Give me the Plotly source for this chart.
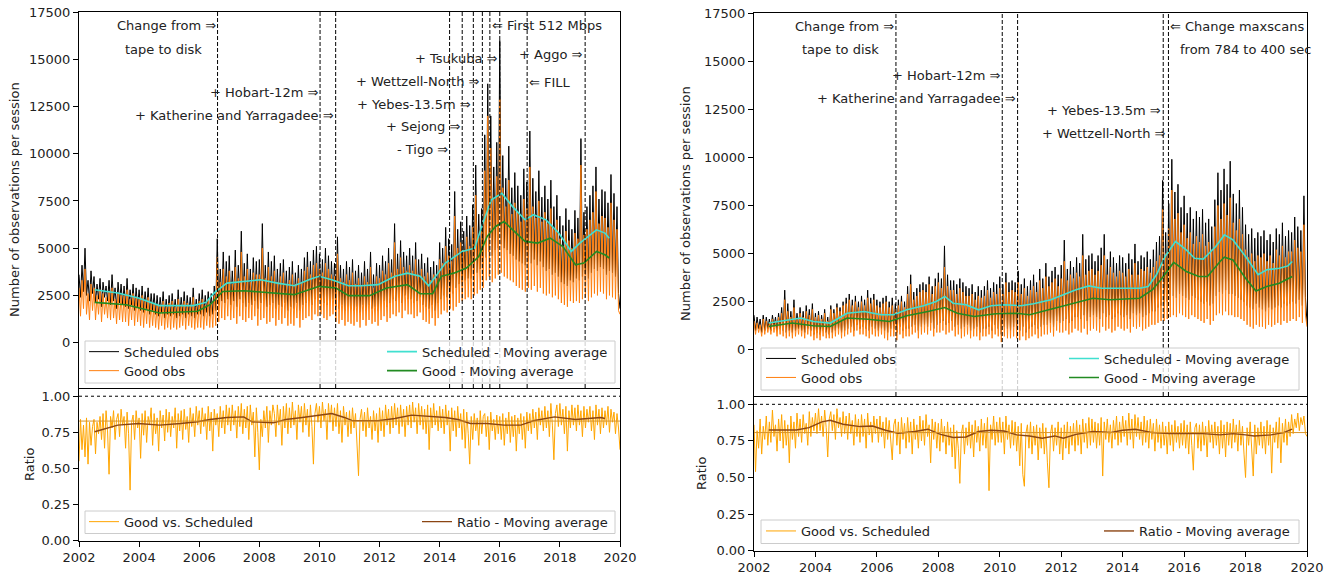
import plotly.graph_objects as go

# ---------------- data ----------------
START_YEAR = 2002.0
STEP = 0.05   # 20 samples per year, 2002.0 .. 2020.0

# Left panel: observations per session (each row = half a year)
SCHED_L = [
    3600, 2400, 4100, 2700, 5000, 2500, 3300, 2200, 3800, 2600,
    3500, 2100, 3100, 2300, 3400, 1900, 3200, 2400, 3000, 2200,
    3300, 2000, 3600, 2200, 2900, 1800, 3200, 2100, 3100, 2000,
    3000, 1900, 3400, 1800, 2800, 2000, 3100, 1700, 2900, 1900,
    2800, 1700, 3000, 1600, 2700, 1800, 2900, 1500, 2600, 1700,
    2600, 1500, 2500, 1400, 2400, 1600, 2700, 1300, 2300, 1500,
    2500, 1400, 2600, 1500, 2300, 1300, 2800, 1400, 2400, 1500,
    2700, 1300, 2500, 1500, 2400, 1400, 2900, 1300, 2300, 1500,
    2600, 1500, 2800, 1400, 2500, 1600, 2700, 1400, 2600, 1500,
    3000, 1700, 5500, 2000, 3900, 2200, 4800, 2100, 4300, 2300,
    4600, 2000, 3800, 2200, 4900, 1900, 4100, 2300, 5900, 2100,
    4200, 1900, 4700, 2100, 3900, 2000, 4500, 2200, 4300, 1800,
    4400, 2100, 6300, 2200, 4100, 1900, 4800, 2000, 4300, 2100,
    4600, 1800, 3900, 2000, 4200, 1900, 4400, 2100, 3800, 1700,
    4000, 1900, 4300, 1800, 3700, 2100, 4100, 1700, 3900, 2000,
    4500, 2100, 4800, 2200, 4300, 2000, 4900, 2300, 5100, 2200,
    4700, 2300, 4400, 2100, 5000, 2000, 4600, 2200, 4300, 2300,
    4200, 1900, 5600, 1800, 4100, 2000, 3900, 1700, 4300, 1900,
    4000, 1800, 4400, 1700, 3800, 1900, 4100, 1600, 3700, 2000,
    4300, 1700, 3900, 2000, 4800, 1800, 3600, 1900, 4200, 1700,
    4100, 2000, 4600, 2200, 4300, 1900, 5000, 2100, 4400, 2300,
    6300, 2200, 4700, 2400, 5400, 2100, 4800, 2500, 4600, 2300,
    5000, 2300, 4600, 2100, 5300, 2200, 4400, 2400, 4700, 2000,
    4200, 1900, 4500, 1800, 4000, 2000, 4300, 1700, 4100, 2100,
    5300, 2300, 5000, 2500, 6100, 2400, 5500, 2700, 5200, 2600,
    8000, 2900, 6000, 3100, 6400, 3200, 5900, 3300, 6700, 3400,
    6200, 3400, 7300, 3600, 9400, 3700, 6800, 3900, 7100, 4000,
    11000, 4500, 13700, 4800, 12000, 4600, 9300, 4900, 10600, 5000,
    16000, 5200, 9900, 5000, 8700, 4900, 10400, 4700, 8200, 4600,
    9000, 4400, 8300, 4300, 7800, 4200, 9200, 4100, 8500, 4300,
    11200, 4200, 8700, 4400, 8000, 4100, 9100, 4300, 7700, 4000,
    8300, 3800, 7600, 3900, 8600, 3600, 7200, 3700, 7800, 3500,
    6700, 3200, 6200, 3100, 7100, 3000, 6500, 3300, 6000, 3200,
    7000, 3400, 6600, 3300, 10800, 3500, 6900, 3600, 7200, 3400,
    7800, 3700, 8300, 3900, 9300, 3800, 7600, 4000, 8100, 3900,
    8000, 3600, 7400, 3800, 8900, 3700, 7900, 3500, 7200, 2600,
    1800,
]
GOOD_L = [
    2900, 1400, 3300, 1800, 3900, 1500, 2600, 1200, 3100, 1700,
    2900, 1200, 2500, 1500, 2800, 1100, 2600, 1500, 2400, 1300,
    2700, 1200, 2900, 1300, 2300, 1000, 2600, 1200, 2500, 1100,
    2500, 1100, 2800, 900, 2300, 1200, 2600, 900, 2400, 1100,
    2300, 900, 2500, 800, 2200, 1000, 2400, 800, 2100, 900,
    2100, 800, 2000, 700, 2000, 900, 2200, 700, 1900, 800,
    2100, 700, 2200, 800, 1900, 700, 2300, 800, 2000, 900,
    2200, 700, 2100, 900, 2000, 800, 2400, 700, 1900, 800,
    2200, 800, 2300, 700, 2000, 900, 2300, 800, 2100, 800,
    2500, 900, 4500, 1100, 3200, 1300, 3900, 1200, 3500, 1400,
    3800, 1200, 3100, 1300, 4000, 1000, 3400, 1400, 4800, 1200,
    3500, 1100, 3900, 1300, 3200, 1200, 3700, 1400, 3600, 900,
    3600, 1200, 5000, 1300, 3400, 1000, 4000, 1100, 3500, 1300,
    3800, 900, 3200, 1200, 3500, 1000, 3700, 1300, 3100, 900,
    3300, 1000, 3600, 900, 3100, 1300, 3400, 800, 3200, 1200,
    3800, 1300, 4000, 1400, 3600, 1200, 4100, 1500, 4200, 1400,
    3900, 1500, 3700, 1300, 4200, 1200, 3900, 1400, 3600, 1500,
    3500, 1100, 4700, 1000, 3400, 1200, 3200, 900, 3600, 1100,
    3300, 1000, 3700, 900, 3100, 1100, 3400, 800, 3000, 1200,
    3500, 900, 3200, 1200, 4000, 1000, 2900, 1100, 3500, 900,
    3400, 1200, 3800, 1400, 3600, 1100, 4200, 1300, 3700, 1500,
    5300, 1400, 3900, 1600, 4500, 1300, 4000, 1700, 3800, 1500,
    4100, 1500, 3800, 1300, 4400, 1400, 3600, 1600, 3900, 1200,
    3500, 1100, 3700, 1000, 3300, 1300, 3600, 900, 3400, 1300,
    4400, 1500, 4200, 1700, 5100, 1600, 4600, 1800, 4300, 1700,
    6700, 1900, 5000, 2100, 5300, 2200, 4900, 2300, 5600, 2400,
    5100, 2300, 6100, 2500, 7800, 2600, 5600, 2800, 5900, 2900,
    9100, 3300, 12000, 3500, 10300, 3200, 7600, 3400, 8800, 3600,
    12900, 3700, 8200, 3500, 7200, 3400, 8600, 3300, 6800, 3200,
    7400, 3000, 6900, 2900, 6400, 2800, 7600, 2700, 7100, 2900,
    9300, 2800, 7200, 3000, 6600, 2700, 7500, 2900, 6400, 2600,
    6900, 2500, 6300, 2600, 7100, 2400, 6000, 2500, 6500, 2300,
    5500, 2100, 5100, 2000, 5900, 1900, 5400, 2200, 5000, 2100,
    5800, 2200, 5500, 2100, 9400, 2300, 5700, 2400, 6000, 2200,
    6500, 2400, 6900, 2600, 8000, 2500, 6300, 2700, 6700, 2600,
    6600, 2300, 6100, 2500, 7400, 2400, 6500, 2300, 6000, 1700,
    1500,
]
RATIO_L = [
    0.55, 0.84, 0.63, 0.80, 0.58, 0.85, 0.53, 0.82, 0.66, 0.79,
    0.84, 0.60, 0.82, 0.74, 0.86, 0.70, 0.88, 0.64, 0.90, 0.76,
    0.46, 0.86, 0.78, 0.90, 0.70, 0.84, 0.88, 0.72, 0.91, 0.80,
    0.86, 0.64, 0.89, 0.74, 0.35, 0.82, 0.87, 0.70, 0.90, 0.78,
    0.85, 0.57, 0.88, 0.73, 0.90, 0.68, 0.86, 0.80, 0.92, 0.66,
    0.88, 0.74, 0.85, 0.62, 0.90, 0.78, 0.87, 0.69, 0.91, 0.75,
    0.89, 0.72, 0.86, 0.78, 0.92, 0.64, 0.88, 0.76, 0.90, 0.70,
    0.91, 0.77, 0.86, 0.68, 0.92, 0.79, 0.88, 0.72, 0.93, 0.80,
    0.90, 0.74, 0.92, 0.79, 0.88, 0.70, 0.93, 0.76, 0.89, 0.62,
    0.91, 0.80, 0.88, 0.72, 0.93, 0.78, 0.90, 0.74, 0.94, 0.80,
    0.92, 0.76, 0.94, 0.80, 0.90, 0.71, 0.93, 0.79, 0.95, 0.74,
    0.91, 0.78, 0.93, 0.70, 0.94, 0.80, 0.89, 0.58, 0.92, 0.75,
    0.49, 0.84, 0.72, 0.90, 0.78, 0.93, 0.68, 0.90, 0.80, 0.94,
    0.88, 0.72, 0.94, 0.80, 0.91, 0.66, 0.93, 0.78, 0.95, 0.74,
    0.92, 0.78, 0.96, 0.80, 0.90, 0.70, 0.94, 0.82, 0.93, 0.75,
    0.95, 0.80, 0.91, 0.72, 0.94, 0.79, 0.53, 0.88, 0.95, 0.82,
    0.93, 0.78, 0.96, 0.83, 0.91, 0.70, 0.95, 0.82, 0.94, 0.76,
    0.92, 0.79, 0.95, 0.74, 0.90, 0.68, 0.93, 0.80, 0.89, 0.72,
    0.90, 0.74, 0.92, 0.78, 0.88, 0.70, 0.45, 0.84, 0.91, 0.76,
    0.89, 0.72, 0.92, 0.78, 0.86, 0.70, 0.90, 0.76, 0.88, 0.68,
    0.92, 0.76, 0.90, 0.72, 0.94, 0.80, 0.91, 0.74, 0.93, 0.78,
    0.95, 0.80, 0.92, 0.74, 0.94, 0.79, 0.91, 0.72, 0.93, 0.80,
    0.94, 0.78, 0.96, 0.82, 0.92, 0.74, 0.95, 0.80, 0.93, 0.77,
    0.91, 0.74, 0.94, 0.63, 0.92, 0.78, 0.95, 0.80, 0.90, 0.76,
    0.93, 0.78, 0.91, 0.74, 0.94, 0.80, 0.90, 0.62, 0.92, 0.76,
    0.90, 0.72, 0.93, 0.78, 0.88, 0.70, 0.91, 0.64, 0.89, 0.74,
    0.53, 0.86, 0.70, 0.88, 0.76, 0.85, 0.66, 0.90, 0.74, 0.86,
    0.88, 0.72, 0.86, 0.63, 0.89, 0.76, 0.84, 0.70, 0.87, 0.74,
    0.86, 0.70, 0.88, 0.66, 0.85, 0.74, 0.89, 0.68, 0.86, 0.72,
    0.87, 0.62, 0.85, 0.74, 0.88, 0.70, 0.86, 0.64, 0.89, 0.76,
    0.88, 0.74, 0.91, 0.78, 0.89, 0.70, 0.92, 0.80, 0.90, 0.76,
    0.93, 0.78, 0.90, 0.72, 0.95, 0.80, 0.56, 0.88, 0.94, 0.79,
    0.95, 0.80, 0.91, 0.74, 0.93, 0.62, 0.90, 0.78, 0.94, 0.80,
    0.92, 0.76, 0.94, 0.80, 0.90, 0.72, 0.93, 0.78, 0.91, 0.82,
    0.93, 0.76, 0.90, 0.70, 0.94, 0.80, 0.91, 0.74, 0.92, 0.78,
    0.90, 0.80, 0.93, 0.75, 0.91, 0.82, 0.89, 0.74, 0.88, 0.78,
    0.63,
]
# Left panel moving averages
SCHED_MA_L_X = [2002.52, 2003.29, 2003.98, 2004.68, 2005.24, 2005.80, 2006.22, 2006.50, 2006.92, 2007.48,
                2008.04, 2008.60, 2009.16, 2009.71, 2009.99, 2010.41, 2010.97, 2011.39, 2011.95, 2012.51,
                2012.93, 2013.35, 2013.63, 2013.91, 2014.19, 2014.75, 2015.16, 2015.44, 2015.72, 2016.07,
                2016.42, 2016.84, 2017.12, 2017.54, 2017.96, 2018.38, 2018.66, 2019.22, 2019.50, 2019.64]
SCHED_MA_L = [2800, 2630, 2360, 1960, 1960, 1960, 2130, 2630, 3150, 3240,
              3330, 3150, 3010, 3370, 3510, 3330, 3010, 3010, 3070, 3510,
              3680, 3510, 3010, 3600, 4210, 4830, 5000, 6330, 7560, 7910,
              7210, 6500, 6770, 6500, 5800, 4830, 5270, 5970, 5800, 5530]
GOOD_MA_L_X = [2002.52, 2003.57, 2004.68, 2005.24, 2005.94, 2006.36, 2006.78, 2007.48, 2008.32, 2009.16,
               2009.99, 2010.55, 2010.97, 2011.67, 2012.23, 2012.93, 2013.35, 2013.77, 2014.05, 2014.47,
               2014.89, 2015.30, 2015.58, 2015.86, 2016.14, 2016.56, 2016.84, 2017.26, 2017.68, 2018.10,
               2018.52, 2018.80, 2019.22, 2019.50, 2019.64]
GOOD_MA_L = [2130, 2010, 1570, 1600, 1660, 2010, 2710, 2750, 2630, 2540,
             2980, 2890, 2490, 2490, 2890, 3070, 2590, 2590, 3510, 3680,
             3950, 4560, 5620, 6150, 6410, 5800, 5360, 5270, 5530, 5090,
             4120, 4210, 4830, 4650, 4480]
RATIO_MA_L_X = [2002.52, 2003.29, 2003.98, 2004.68, 2005.38, 2005.94, 2006.36, 2006.92, 2007.48, 2007.76,
                2008.46, 2008.88, 2009.43, 2009.99, 2010.41, 2010.83, 2011.11, 2011.95, 2012.51, 2013.07,
                2013.63, 2014.19, 2014.61, 2015.02, 2015.58, 2016.14, 2016.70, 2017.12, 2017.82, 2018.52,
                2018.94, 2019.36, 2019.50]
RATIO_MA_L = [0.754, 0.800, 0.811, 0.800, 0.811, 0.823, 0.839, 0.853, 0.857, 0.823,
              0.816, 0.839, 0.853, 0.869, 0.880, 0.853, 0.830, 0.830, 0.846, 0.869,
              0.862, 0.853, 0.839, 0.811, 0.811, 0.800, 0.800, 0.830, 0.857, 0.839,
              0.846, 0.853, 0.846]
RATIO_MEAN_L = 0.828

# Right panel
SCHED_R = [
    1800, 1000, 1700, 1100, 1600, 900, 1800, 1000, 1700, 1100,
    1600, 1000, 1800, 1200, 1700, 1000, 1900, 1100, 2200, 1000,
    3100, 900, 2400, 1000, 2000, 900, 2600, 1000, 1900, 1100,
    2200, 1000, 2000, 900, 2300, 1100, 2100, 1000, 2400, 800,
    1900, 900, 2000, 800, 1800, 1000, 2100, 900, 1700, 800,
    2300, 900, 2100, 1000, 2400, 1100, 2200, 900, 2500, 1000,
    2700, 1100, 2900, 1200, 2600, 1000, 2800, 1300, 2500, 1100,
    2800, 1200, 2600, 1100, 3100, 1000, 2700, 1200, 2900, 1100,
    2600, 1000, 2500, 1100, 2700, 1000, 2800, 900, 2500, 1100,
    2700, 1100, 2400, 900, 2600, 1200, 2800, 1000, 2500, 1100,
    3300, 1100, 3900, 1200, 3000, 1300, 3200, 1000, 3400, 1200,
    3500, 1300, 3400, 1200, 3800, 1400, 3300, 1100, 3700, 1300,
    4000, 1400, 3700, 1500, 5400, 1300, 3900, 1400, 3600, 1500,
    3600, 1200, 3400, 1300, 3700, 1100, 3500, 1200, 3300, 1300,
    3200, 1000, 3400, 1100, 3000, 1200, 3300, 900, 3100, 1100,
    3300, 1100, 3600, 1200, 3200, 1000, 3500, 1300, 3400, 1100,
    3800, 800, 3400, 1200, 4000, 1100, 3500, 1000, 3600, 1200,
    3500, 1100, 4100, 1000, 3400, 1200, 3700, 900, 3300, 1100,
    3600, 1200, 3900, 1300, 3500, 1100, 4200, 1200, 3700, 1300,
    4500, 1300, 3800, 1400, 4100, 1200, 4300, 1500, 3900, 1400,
    4400, 1500, 5700, 1600, 4200, 1400, 4600, 1500, 4300, 1700,
    4800, 1700, 4500, 1600, 6000, 1800, 4700, 1500, 4900, 1700,
    5000, 1800, 4600, 1700, 4900, 1600, 5300, 1900, 6000, 1700,
    4700, 1800, 5100, 1600, 4800, 1700, 4500, 1900, 4900, 1800,
    4800, 1700, 4500, 1800, 5000, 1600, 4700, 1900, 5500, 1800,
    4600, 1900, 4900, 1700, 4800, 1800, 5100, 1900, 4700, 2000,
    5200, 2000, 5600, 2200, 5900, 2300, 8800, 2400, 6100, 2500,
    7600, 2600, 9900, 2800, 8200, 2700, 8600, 2900, 7400, 2800,
    8000, 2700, 7100, 2600, 7400, 2800, 6800, 2700, 7200, 2600,
    6900, 2500, 7300, 2400, 6600, 2500, 6800, 2300, 6400, 2400,
    7800, 2800, 9200, 3000, 8300, 2900, 9400, 3100, 8600, 2900,
    9800, 2900, 8100, 2800, 7600, 2700, 8300, 2600, 7400, 2500,
    6500, 2300, 6000, 2200, 6300, 2100, 5800, 2400, 6100, 2200,
    5900, 2100, 6200, 2000, 5700, 2200, 6000, 2100, 5600, 2200,
    6300, 2300, 6000, 2200, 6600, 2400, 5900, 2300, 6200, 2400,
    6100, 2500, 6900, 2400, 6400, 2600, 6200, 2300, 8000, 2700,
    1400,
]
GOOD_R = [
    1500, 800, 1400, 900, 1300, 700, 1600, 800, 1500, 900,
    1400, 800, 1600, 900, 1500, 700, 1700, 800, 1900, 700,
    2600, 600, 2000, 700, 1700, 600, 2200, 700, 1600, 800,
    1900, 700, 1700, 600, 2000, 800, 1800, 700, 2100, 500,
    1700, 600, 1800, 500, 1600, 700, 1900, 600, 1500, 600,
    2100, 600, 1900, 700, 2200, 800, 2000, 600, 2300, 700,
    2400, 800, 2600, 900, 2300, 700, 2500, 1000, 2200, 800,
    2500, 800, 2300, 700, 2700, 600, 2400, 800, 2600, 700,
    2300, 700, 2200, 800, 2400, 600, 2500, 500, 2200, 700,
    2300, 700, 2100, 500, 2300, 800, 2500, 600, 2200, 700,
    2900, 700, 3400, 800, 2600, 900, 2800, 600, 3000, 800,
    3100, 900, 3000, 800, 3400, 1000, 2900, 700, 3300, 900,
    3500, 900, 3200, 1000, 4300, 800, 3300, 900, 3100, 1000,
    3100, 700, 2900, 800, 3200, 600, 3000, 700, 2800, 800,
    2800, 600, 2900, 700, 2600, 700, 2800, 500, 2700, 700,
    2800, 700, 3100, 800, 2700, 600, 3000, 800, 2900, 700,
    3200, 400, 2900, 700, 3500, 600, 3000, 600, 3100, 700,
    3000, 600, 3500, 500, 2900, 700, 3200, 500, 2800, 600,
    3100, 700, 3300, 800, 3000, 600, 3600, 700, 3200, 800,
    3800, 800, 3300, 900, 3500, 700, 3700, 1000, 3300, 900,
    3700, 900, 4600, 1000, 3600, 800, 3900, 900, 3700, 1100,
    4000, 1000, 3800, 900, 4900, 1100, 3900, 800, 4100, 1000,
    4200, 1100, 3900, 1000, 4100, 900, 4400, 1200, 4900, 1000,
    3900, 1100, 4300, 900, 4000, 1000, 3800, 1200, 4100, 1100,
    4000, 1000, 3800, 1100, 4200, 900, 3900, 1200, 4500, 1100,
    3900, 1200, 4200, 1000, 4100, 1100, 4300, 1200, 4000, 1300,
    4300, 1300, 4600, 1400, 4900, 1500, 7300, 1500, 5000, 1600,
    6300, 1700, 8300, 1800, 6800, 1700, 7100, 1900, 6100, 1800,
    6500, 1700, 5800, 1600, 6100, 1800, 5500, 1700, 5900, 1600,
    5600, 1500, 6000, 1400, 5400, 1600, 5600, 1300, 5200, 1500,
    6400, 1800, 7500, 1900, 6800, 1800, 7600, 2000, 7000, 1800,
    7900, 1800, 6600, 1700, 6200, 1700, 6800, 1600, 6000, 1500,
    5200, 1300, 4800, 1200, 5000, 1100, 4600, 1300, 4900, 1200,
    4800, 1200, 5000, 1100, 4600, 1300, 4900, 1200, 4500, 1300,
    5200, 1400, 4900, 1300, 5400, 1500, 4800, 1400, 5100, 1500,
    5100, 1600, 5700, 1500, 5300, 1700, 5100, 1400, 6500, 1800,
    1200,
]
RATIO_R = [
    0.86, 0.54, 0.82, 0.70, 0.90, 0.66, 0.85, 0.76, 0.92, 0.72,
    0.88, 0.74, 0.96, 0.78, 0.86, 0.68, 0.90, 0.75, 0.93, 0.70,
    0.89, 0.72, 0.86, 0.60, 0.92, 0.76, 0.88, 0.70, 0.94, 0.78,
    0.90, 0.74, 0.93, 0.80, 0.87, 0.72, 0.95, 0.78, 0.91, 0.82,
    0.94, 0.80, 0.97, 0.82, 0.92, 0.78, 0.96, 0.84, 0.64, 0.90,
    0.95, 0.82, 0.93, 0.76, 0.97, 0.84, 0.91, 0.78, 0.95, 0.80,
    0.92, 0.76, 0.94, 0.80, 0.89, 0.72, 0.93, 0.78, 0.90, 0.74,
    0.93, 0.78, 0.90, 0.70, 0.94, 0.79, 0.88, 0.74, 0.92, 0.80,
    0.90, 0.74, 0.92, 0.78, 0.88, 0.70, 0.91, 0.76, 0.89, 0.72,
    0.62, 0.86, 0.90, 0.72, 0.88, 0.66, 0.91, 0.76, 0.87, 0.70,
    0.91, 0.74, 0.88, 0.66, 0.90, 0.76, 0.86, 0.70, 0.92, 0.75,
    0.89, 0.72, 0.93, 0.78, 0.86, 0.60, 0.90, 0.76, 0.88, 0.70,
    0.87, 0.68, 0.90, 0.74, 0.85, 0.66, 0.88, 0.72, 0.84, 0.64,
    0.86, 0.56, 0.82, 0.70, 0.46, 0.80, 0.86, 0.66, 0.84, 0.72,
    0.88, 0.70, 0.86, 0.64, 0.89, 0.74, 0.85, 0.68, 0.90, 0.72,
    0.87, 0.70, 0.91, 0.41, 0.86, 0.76, 0.92, 0.72, 0.88, 0.74,
    0.91, 0.74, 0.88, 0.66, 0.92, 0.76, 0.86, 0.70, 0.89, 0.72,
    0.88, 0.68, 0.85, 0.58, 0.87, 0.52, 0.44, 0.80, 0.86, 0.70,
    0.88, 0.66, 0.85, 0.72, 0.86, 0.62, 0.84, 0.70, 0.87, 0.66,
    0.84, 0.60, 0.43, 0.80, 0.86, 0.68, 0.84, 0.72, 0.88, 0.66,
    0.84, 0.62, 0.86, 0.70, 0.88, 0.66, 0.85, 0.72, 0.87, 0.68,
    0.89, 0.72, 0.86, 0.66, 0.90, 0.74, 0.87, 0.70, 0.91, 0.72,
    0.90, 0.74, 0.88, 0.70, 0.87, 0.72, 0.91, 0.51, 0.88, 0.76,
    0.90, 0.74, 0.86, 0.70, 0.89, 0.76, 0.92, 0.72, 0.88, 0.74,
    0.92, 0.78, 0.89, 0.72, 0.94, 0.76, 0.90, 0.70, 0.93, 0.78,
    0.91, 0.76, 0.88, 0.72, 0.92, 0.74, 0.89, 0.70, 0.90, 0.76,
    0.87, 0.68, 0.90, 0.74, 0.86, 0.70, 0.88, 0.72, 0.85, 0.66,
    0.88, 0.72, 0.86, 0.68, 0.89, 0.74, 0.85, 0.70, 0.87, 0.72,
    0.89, 0.70, 0.86, 0.66, 0.88, 0.72, 0.55, 0.84, 0.87, 0.70,
    0.86, 0.68, 0.88, 0.72, 0.85, 0.64, 0.89, 0.74, 0.86, 0.70,
    0.88, 0.72, 0.85, 0.66, 0.89, 0.70, 0.86, 0.64, 0.88, 0.72,
    0.87, 0.70, 0.90, 0.74, 0.86, 0.68, 0.89, 0.72, 0.85, 0.66,
    0.50, 0.84, 0.72, 0.88, 0.70, 0.51, 0.86, 0.66, 0.84, 0.72,
    0.88, 0.70, 0.85, 0.66, 0.89, 0.72, 0.86, 0.53, 0.84, 0.74,
    0.88, 0.70, 0.91, 0.60, 0.87, 0.74, 0.90, 0.72, 0.88, 0.78,
    0.93, 0.80, 0.90, 0.84, 0.94, 0.82, 0.91, 0.86, 0.92, 0.80,
    0.78,
]
SCHED_MA_R_X = [2002.48, 2003.10, 2003.52, 2003.93, 2004.48, 2005.03, 2005.59, 2006.14, 2006.55, 2006.97,
                2007.52, 2007.93, 2008.21, 2008.48, 2008.90, 2009.31, 2009.72, 2010.14, 2010.69, 2011.10,
                2011.66, 2012.07, 2012.48, 2012.90, 2013.31, 2013.86, 2014.55, 2014.83, 2015.10, 2015.38,
                2015.72, 2016.07, 2016.34, 2016.62, 2017.03, 2017.31, 2017.59, 2018.00, 2018.41, 2018.69,
                2019.10, 2019.38, 2019.52]
SCHED_MA_R = [1390, 1560, 1650, 1470, 1390, 1900, 1990, 1820, 1820, 2080,
              2290, 2510, 2770, 2420, 2340, 2080, 2290, 2340, 2290, 2390,
              2600, 2860, 3120, 3320, 3200, 3200, 3200, 3290, 3900, 4850,
              5630, 5190, 4760, 4710, 5370, 5970, 5710, 4850, 3900, 4160,
              4240, 4360, 4590]
GOOD_MA_R_X = [2002.48, 2003.24, 2003.93, 2004.48, 2005.03, 2005.72, 2006.41, 2006.97, 2007.66, 2008.21,
               2008.62, 2009.17, 2009.86, 2010.55, 2010.97, 2011.38, 2011.93, 2012.48, 2013.03, 2013.59,
               2014.55, 2014.97, 2015.24, 2015.66, 2016.07, 2016.48, 2016.76, 2017.17, 2017.31, 2017.59,
               2018.00, 2018.34, 2018.69, 2019.10, 2019.38, 2019.52]
GOOD_MA_R = [1210, 1390, 1250, 1210, 1650, 1590, 1470, 1770, 1990, 2200,
             1900, 1730, 1870, 1900, 1820, 1990, 2250, 2460, 2680, 2600,
             2680, 3120, 3640, 4540, 4070, 3810, 3810, 4590, 4810, 4670,
             3720, 3060, 3290, 3460, 3720, 3810]
RATIO_MA_R_X = [2002.48, 2003.38, 2003.79, 2004.21, 2004.48, 2004.90, 2005.45, 2005.86, 2006.28, 2006.69,
                2007.24, 2007.66, 2008.07, 2008.48, 2008.90, 2009.31, 2009.72, 2010.14, 2010.55, 2010.97,
                2011.38, 2011.79, 2012.07, 2012.48, 2013.03, 2013.59, 2014.00, 2014.41, 2014.97, 2015.52,
                2016.07, 2016.62, 2017.17, 2017.59, 2018.00, 2018.28, 2018.83, 2019.24, 2019.52]
RATIO_MA_R = [0.825, 0.825, 0.841, 0.880, 0.891, 0.864, 0.848, 0.852, 0.823, 0.802,
              0.814, 0.830, 0.795, 0.773, 0.777, 0.814, 0.823, 0.818, 0.791, 0.784,
              0.768, 0.784, 0.768, 0.795, 0.814, 0.807, 0.823, 0.830, 0.807, 0.800,
              0.800, 0.800, 0.791, 0.800, 0.791, 0.784, 0.791, 0.807, 0.830]
RATIO_MEAN_R = 0.807

# Events (vertical dashed lines) and their labels
EVENTS_L = [2006.61, 2010.02, 2010.54, 2014.33, 2014.75, 2015.12, 2015.42, 2015.67, 2016.00, 2016.91, 2018.84]
LABELS_L = [
    ("Change from ⇒", 2006.61, 16760, "right"),
    ("tape to disk", 2004.80, 15530, "center"),
    ("+ Hobart-12m ⇒", 2010.02, 13230, "right"),
    ("+ Katherine and Yarragadee ⇒", 2010.54, 12020, "right"),
    ("- Tigo ⇒", 2014.33, 10240, "right"),
    ("+ Sejong ⇒", 2014.75, 11420, "right"),
    ("+ Yebes-13.5m ⇒", 2015.12, 12620, "right"),
    ("+ Wettzell-North ⇒", 2015.42, 13830, "right"),
    ("+ Tsukuba ⇒", 2016.00, 15030, "right"),
    ("⇐ First 512 Mbps", 2015.67, 16760, "left"),
    ("⇐ FILL", 2016.91, 13760, "left"),
    ("+ Aggo ⇒", 2018.84, 15230, "right"),
]
EVENTS_R = [2006.62, 2010.08, 2010.58, 2015.32, 2015.49]
LABELS_R = [
    ("Change from ⇒", 2006.62, 16790, "right"),
    ("tape to disk", 2004.83, 15580, "center"),
    ("+ Hobart-12m ⇒", 2010.08, 14260, "right"),
    ("+ Katherine and Yarragadee ⇒", 2010.58, 13050, "right"),
    ("+ Yebes-13.5m ⇒", 2015.32, 12460, "right"),
    ("+ Wettzell-North ⇒", 2015.49, 11250, "right"),
    ("⇐ Change maxscans", 2015.49, 16790, "left"),
    ("from 784 to 400 sec", 2018.00, 15580, "center"),
]

OBS_TICKS = [0, 2500, 5000, 7500, 10000, 12500, 15000, 17500]
OBS_TICK_LABELS = ["0", "2500", "5000", "7500", "10000", "12500", "15000", "17500"]
RATIO_TICKS = [0.0, 0.25, 0.5, 0.75, 1.0]
RATIO_TICK_LABELS = ["0.00", "0.25", "0.50", "0.75", "1.00"]
YEAR_TICKS = [2002, 2004, 2006, 2008, 2010, 2012, 2014, 2016, 2018, 2020]

# ---------------- figure ----------------
W, H = 1333, 574
FONT = "DejaVu Sans"
FS = 13


def px(x):
    return x / W


def py(y):
    return 1 - y / H


def xs(series):
    return [round(START_YEAR + i * STEP, 3) for i in range(len(series))]


C_SCHED = "#000000"
C_GOOD = "#ff7f0e"
C_SMA = "#40e0d0"
C_GMA = "#228b22"
C_RATIO = "#ffa500"
C_RMA = "#8b4513"

fig = go.Figure()


def add(x, y, name, color, width, xa, ya, leg):
    fig.add_trace(go.Scatter(x=x, y=y, mode="lines", name=name,
                             line=dict(color=color, width=width),
                             xaxis=xa, yaxis=ya, legend=leg, showlegend=True))


# left panel
add(xs(SCHED_L), SCHED_L, "Scheduled obs", C_SCHED, 1, "x", "y", "legend")
add(xs(GOOD_L), GOOD_L, "Good obs", C_GOOD, 1, "x", "y", "legend2")
add(SCHED_MA_L_X, SCHED_MA_L, "Scheduled - Moving average", C_SMA, 1.6, "x", "y", "legend3")
add(GOOD_MA_L_X, GOOD_MA_L, "Good - Moving average", C_GMA, 1.6, "x", "y", "legend4")
add(xs(RATIO_L), RATIO_L, "Good vs. Scheduled", C_RATIO, 1, "x2", "y2", "legend5")
add(RATIO_MA_L_X, RATIO_MA_L, "Ratio - Moving average", C_RMA, 1.4, "x2", "y2", "legend6")
# right panel
add(xs(SCHED_R), SCHED_R, "Scheduled obs", C_SCHED, 1, "x3", "y3", "legend7")
add(xs(GOOD_R), GOOD_R, "Good obs", C_GOOD, 1, "x3", "y3", "legend8")
add(SCHED_MA_R_X, SCHED_MA_R, "Scheduled - Moving average", C_SMA, 1.6, "x3", "y3", "legend9")
add(GOOD_MA_R_X, GOOD_MA_R, "Good - Moving average", C_GMA, 1.6, "x3", "y3", "legend10")
add(xs(RATIO_R), RATIO_R, "Good vs. Scheduled", C_RATIO, 1, "x4", "y4", "legend11")
add(RATIO_MA_R_X, RATIO_MA_R, "Ratio - Moving average", C_RMA, 1.4, "x4", "y4", "legend12")

# geometry (pixels)
LX = (79, 620)
RX = (754, 1307)
L_TOP = (12, 388)
L_BOT = (389, 540.7)
R_TOP = (13, 396)
R_BOT = (397, 550.7)

axis_common = dict(showline=True, mirror=True, linecolor="#000000", linewidth=1,
                   showgrid=False, zeroline=False, automargin=False,
                   tickfont=dict(family=FONT, size=FS, color="#222222"))
layout = dict(
    template="none",
    width=W, height=H, autosize=False, margin=dict(l=0, r=0, t=0, b=0, pad=0),
    paper_bgcolor="white", plot_bgcolor="white",
    font=dict(family=FONT, size=FS, color="#222222"),
    showlegend=True,
)


def xa(dom, anchor, labels):
    d = dict(axis_common, domain=[px(dom[0]), px(dom[1])], anchor=anchor, range=[2002, 2020])
    if labels:
        d.update(tickvals=YEAR_TICKS, ticktext=[str(t) for t in YEAR_TICKS],
                 ticks="outside", ticklen=5, tickcolor="#000000")
    else:
        d.update(showticklabels=False, ticks="")
    return d


def ya(dom, anchor, rng, tv, tt):
    return dict(axis_common, domain=[py(dom[1]), py(dom[0])], anchor=anchor, range=rng,
                tickvals=tv, ticktext=tt, ticks="outside", ticklen=5, tickcolor="#000000")


layout["xaxis"] = xa(LX, "y", False)
layout["yaxis"] = ya(L_TOP, "x", [-2400, 17500], OBS_TICKS, OBS_TICK_LABELS)
layout["xaxis2"] = xa(LX, "y2", True)
layout["yaxis2"] = ya(L_BOT, "x2", [0, 1.05], RATIO_TICKS, RATIO_TICK_LABELS)
layout["xaxis3"] = xa(RX, "y3", False)
layout["yaxis3"] = ya(R_TOP, "x3", [-2400, 17500], OBS_TICKS, OBS_TICK_LABELS)
layout["xaxis4"] = xa(RX, "y4", True)
layout["yaxis4"] = ya(R_BOT, "x4", [0, 1.05], RATIO_TICKS, RATIO_TICK_LABELS)

# legends: one per entry, positioned by line-sample start / row centre (pixels)
LEG_POS = {
    "legend": (89, 351.7), "legend2": (89, 370.7),
    "legend3": (387, 351.7), "legend4": (387, 370.7),
    "legend5": (89, 521.7), "legend6": (422, 521.7),
    "legend7": (766, 358.5), "legend8": (766, 377.5),
    "legend9": (1069, 358.5), "legend10": (1069, 377.5),
    "legend11": (766, 531), "legend12": (1104, 531),
}
for k, (lx, ly) in LEG_POS.items():
    layout[k] = dict(x=px(lx - 5), y=py(ly), xanchor="left", yanchor="middle",
                     bgcolor="rgba(0,0,0,0)", borderwidth=0,
                     font=dict(family=FONT, size=FS, color="#222222"),
                     itemwidth=30)

shapes = []
for e in EVENTS_L:
    shapes.append(dict(type="line", xref="x", yref="y domain", x0=e, x1=e, y0=0, y1=1,
                       line=dict(color="#000000", width=1, dash="4px,2px"), layer="above"))
for e in EVENTS_R:
    shapes.append(dict(type="line", xref="x3", yref="y3 domain", x0=e, x1=e, y0=0, y1=1,
                       line=dict(color="#000000", width=1, dash="4px,2px"), layer="above"))
# ratio reference lines
for xr, yr, m in (("x2", "y2", RATIO_MEAN_L), ("x4", "y4", RATIO_MEAN_R)):
    shapes.append(dict(type="line", xref=xr + " domain", yref=yr, x0=0, x1=1, y0=1, y1=1,
                       line=dict(color="#000000", width=1, dash="dot"), layer="above"))
    shapes.append(dict(type="line", xref=xr + " domain", yref=yr, x0=0, x1=1, y0=m, y1=m,
                       line=dict(color="#d9952b", width=1), layer="above"))
# legend boxes
for (x0, x1, y0, y1) in ((85, 615, 341, 383), (85, 615, 511, 533.5),
                         (761, 1299, 348, 390), (761, 1299, 520, 543.5)):
    shapes.append(dict(type="rect", xref="paper", yref="paper",
                       x0=px(x0), x1=px(x1), y0=py(y1), y1=py(y0),
                       fillcolor="rgba(255,255,255,0.8)",
                       line=dict(color="#cccccc", width=1), layer="above"))
layout["shapes"] = shapes

ann = []
for (t, x, y, al) in LABELS_L:
    ann.append(dict(text=t, x=x, y=y, xref="x", yref="y", xanchor=al, yanchor="middle",
                    showarrow=False, font=dict(family=FONT, size=FS, color="#222222")))
for (t, x, y, al) in LABELS_R:
    ann.append(dict(text=t, x=x, y=y, xref="x3", yref="y3", xanchor=al, yanchor="middle",
                    showarrow=False, font=dict(family=FONT, size=FS, color="#222222")))
# axis titles
for (t, x, y) in (("Number of observations per session", 14, 200),
                  ("Ratio", 29, 465),
                  ("Number of observations per session", 686, 204),
                  ("Ratio", 701, 474)):
    ann.append(dict(text=t, x=px(x), y=py(y), xref="paper", yref="paper",
                    xanchor="center", yanchor="middle", textangle=-90, showarrow=False,
                    font=dict(family=FONT, size=FS, color="#222222")))
layout["annotations"] = ann

fig.update_layout(**layout)
fig.write_html(
    "out.html",
    post_script="document.body.style.margin='0';document.body.style.padding='0';"
                "document.documentElement.style.margin='0';document.body.style.overflow='hidden';",
)
